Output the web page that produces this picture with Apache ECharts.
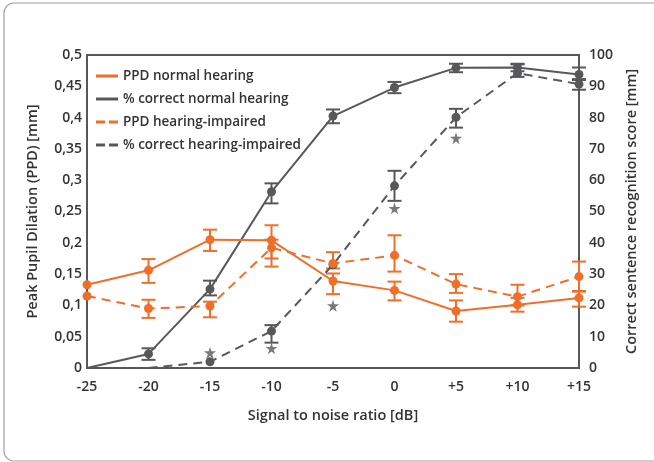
<!DOCTYPE html>
<html>
<head>
<meta charset="utf-8">
<script src="https://cdn.jsdelivr.net/npm/echarts@6/dist/echarts.min.js"></script>
<style>
  html, body { margin: 0; padding: 0; background: #fff; }
  #chart { width: 654px; height: 462px; }
</style>
</head>
<body>
<div id="chart"></div>
<script>
// signal to noise ratio [dB]
var snr = [-25, -20, -15, -10, -5, 0, 5, 10, 15];

// PPD normal hearing [mm]
var ppdNormal     = [0.133, 0.156, 0.205, 0.204, 0.139, 0.124, 0.091, 0.101, 0.112];
var ppdNormalLow  = [null, 0.136, 0.187, 0.175, 0.118, 0.108, 0.074, 0.090, 0.098];
var ppdNormalHigh = [null, 0.174, 0.221, 0.228, 0.151, 0.138, 0.108, 0.112, 0.123];

// PPD hearing-impaired [mm]
var ppdImpaired     = [0.115, 0.095, 0.099, 0.192, 0.167, 0.180, 0.134, 0.114, 0.146];
var ppdImpairedLow  = [null, 0.080, 0.081, 0.162, 0.159, 0.154, 0.120, 0.100, 0.122];
var ppdImpairedHigh = [null, 0.109, 0.106, 0.205, 0.185, 0.212, 0.150, 0.133, 0.170];

// % correct normal hearing
var corrNormal     = [0, 4.5, 25.2, 56.3, 80.5, 89.6, 95.9, 96.0, 93.8];
var corrNormalLow  = [null, 2.6, 23.2, 52.6, 78.2, 87.8, 94.5, 94.8, 92.0];
var corrNormalHigh = [null, 6.3, 27.9, 59.0, 82.6, 91.4, 97.2, 97.2, 96.0];

// % correct hearing-impaired
var corrImpaired     = [null, 0, 2.0, 11.8, 33.0, 58.2, 80.1, 94.2, 90.7];
var corrImpairedLow  = [null, null, null, 8.1, null, 53.4, 76.8, 93.0, 88.9];
var corrImpairedHigh = [null, null, null, 13.7, null, 63.0, 82.8, 97.0, 92.3];

// significance stars (score axis)
var starSnr   = [-15, -10, -5, 0, 5];
var starScore = [4.9, 6.3, 19.9, 51.0, 73.4];

var orange = '#f06e28';
var grey = '#58585a';
var starPath = 'path://M50,0 L61,35 98,35 68,57 79,91 50,70 21,91 32,57 2,35 39,35 Z';

function pts(ys, noMarkFirst) {
    var out = [];
    for (var i = 0; i < snr.length; i++) {
        if (ys[i] === null) continue;
        if (i === noMarkFirst) out.push({value: [snr[i], ys[i]], symbol: 'none'});
        else out.push([snr[i], ys[i]]);
    }
    return out;
}

function bars(lo, hi) {
    var out = [];
    for (var i = 0; i < snr.length; i++) {
        if (lo[i] === null) continue;
        out.push([snr[i], lo[i], hi[i]]);
    }
    return out;
}

function errorSeries(lo, hi, color, axis) {
    return {
        type: 'custom',
        yAxisIndex: axis,
        silent: true,
        z: 3,
        data: bars(lo, hi),
        renderItem: function (params, api) {
            var a = api.coord([api.value(0), api.value(1)]);
            var b = api.coord([api.value(0), api.value(2)]);
            var w = 7;
            var st = {stroke: color, lineWidth: 2, fill: null};
            return {
                type: 'group',
                children: [
                    {type: 'line', shape: {x1: a[0], y1: a[1], x2: b[0], y2: b[1]}, style: st},
                    {type: 'line', shape: {x1: a[0] - w, y1: a[1], x2: a[0] + w, y2: a[1]}, style: st},
                    {type: 'line', shape: {x1: b[0] - w, y1: b[1], x2: b[0] + w, y2: b[1]}, style: st}
                ]
            };
        }
    };
}

function lineSeries(name, data, color, dashed, axis) {
    return {
        name: name,
        type: 'line',
        yAxisIndex: axis,
        data: data,
        symbol: 'circle',
        symbolSize: 9,
        z: 4,
        itemStyle: {color: color},
        lineStyle: {color: color, width: 2, type: dashed ? [9, 6] : 'solid'}
    };
}

var labelFont = {fontFamily: 'Open Sans', fontSize: 14, fontWeight: 600, color: '#333'};
var nameFont = {fontFamily: 'Open Sans', fontSize: 14.5, fontWeight: 600, color: '#333'};

var chart = echarts.init(document.getElementById('chart'));

chart.setOption({
    animation: false,
    graphic: [{
        type: 'rect',
        shape: {x: 4, y: 3, width: 720, height: 458, r: 10},
        style: {fill: null, stroke: '#a0a0a0', lineWidth: 1.2},
        silent: true
    }],
    grid: {
        left: 87, right: 75, top: 55, bottom: 94,
        show: true, borderColor: '#58585a', borderWidth: 2
    },
    legend: {
        left: 91, top: 64, orient: 'vertical',
        itemWidth: 22, itemHeight: 3, itemGap: 9,
        textStyle: {fontFamily: 'Open Sans', fontSize: 13.5, fontWeight: 600, color: '#333'},
        data: [
            {name: 'PPD normal hearing', icon: 'path://M0,0H22V3H0Z'},
            {name: '% correct normal hearing', icon: 'path://M0,0H22V3H0Z'},
            {name: 'PPD hearing-impaired', icon: 'path://M0,0H9V3H0Z M13,0H22V3H13Z'},
            {name: '% correct hearing-impaired', icon: 'path://M0,0H9V3H0Z M13,0H22V3H13Z'}
        ]
    },
    xAxis: {
        type: 'value', min: -25, max: 15, interval: 5,
        name: 'Signal to noise ratio [dB]', nameLocation: 'middle', nameGap: 40,
        nameTextStyle: nameFont,
        axisLine: {show: false}, axisTick: {show: false}, splitLine: {show: false},
        axisLabel: Object.assign({margin: 12, formatter: function (v) { return v > 0 ? '+' + v : '' + v; }}, labelFont)
    },
    yAxis: [{
        type: 'value', min: 0, max: 0.5, interval: 0.05,
        name: 'Peak Pupil Dilation (PPD) [mm]', nameLocation: 'middle', nameGap: 47,
        nameTextStyle: nameFont,
        axisLine: {show: false}, axisTick: {show: false}, splitLine: {show: false},
        axisLabel: Object.assign({margin: 5, formatter: function (v) {
            return (Math.round(v * 100) / 100).toString().replace('.', ',');
        }}, labelFont)
    }, {
        type: 'value', min: 0, max: 100, interval: 10, position: 'right',
        name: 'Correct sentence recognition score [mm]', nameLocation: 'middle', nameGap: 45,
        nameRotate: 90,
        nameTextStyle: nameFont,
        axisLine: {show: false}, axisTick: {show: false}, splitLine: {show: false},
        axisLabel: Object.assign({margin: 10}, labelFont)
    }],
    series: [
        errorSeries(corrNormalLow, corrNormalHigh, grey, 1),
        errorSeries(corrImpairedLow, corrImpairedHigh, grey, 1),
        lineSeries('% correct normal hearing', pts(corrNormal, 0), grey, false, 1),
        lineSeries('% correct hearing-impaired', pts(corrImpaired, 1), grey, true, 1),
        {
            type: 'scatter', yAxisIndex: 1, symbol: starPath, symbolSize: 12,
            itemStyle: {color: grey}, z: 4,
            data: starSnr.map(function (x, i) { return [x, starScore[i]]; })
        },
        errorSeries(ppdNormalLow, ppdNormalHigh, orange, 0),
        errorSeries(ppdImpairedLow, ppdImpairedHigh, orange, 0),
        lineSeries('PPD normal hearing', pts(ppdNormal, -1), orange, false, 0),
        lineSeries('PPD hearing-impaired', pts(ppdImpaired, -1), orange, true, 0)
    ]
});

window.addEventListener('resize', function () {
    chart.resize();
});
</script>
</body>
</html>
